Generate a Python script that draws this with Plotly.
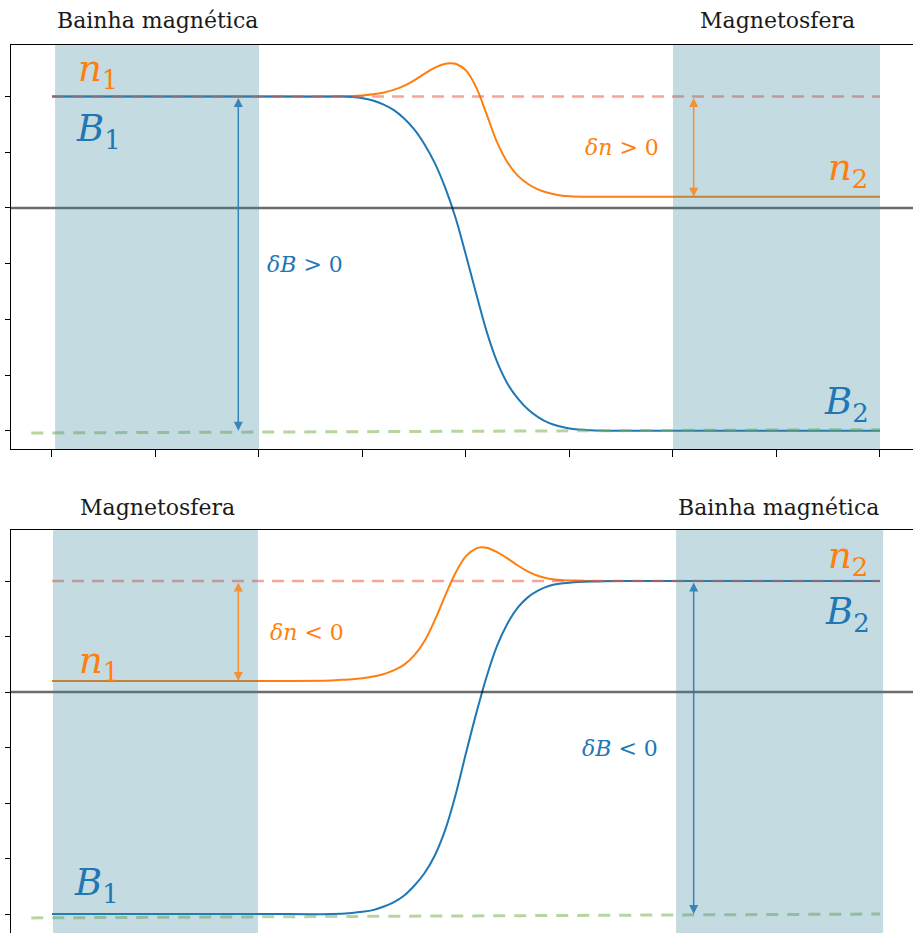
import plotly.graph_objects as go

# ---- data -------------------------------------------------------------
x_ticks = [0, 1, 2, 3, 4, 5, 6, 7, 8]
y_ticks = [-4, -3, -2, -1, 0, 1, 2]

# upper panel: sheath (left) -> magnetosphere (right)
top_n_x = [0, 1, 2, 2.7, 2.9, 3.0, 3.1, 3.2, 3.3, 3.4, 3.5, 3.6, 3.7, 3.8, 3.85, 3.9, 4.0, 4.1,
           4.2, 4.3, 4.4, 4.5, 4.6, 4.7, 4.8, 4.9, 5.0, 5.2, 6, 7, 8]
top_n_y = [2.0, 2.0, 2.0, 2.0, 2.01, 2.02, 2.04, 2.07, 2.12, 2.19, 2.29, 2.41, 2.52, 2.59, 2.60, 2.59, 2.47, 2.16,
           1.68, 1.18, 0.82, 0.58, 0.43, 0.33, 0.27, 0.23, 0.21, 0.20, 0.20, 0.20, 0.20]
top_b_x = [0, 1, 2, 2.8, 2.9, 3.0, 3.1, 3.2, 3.3, 3.4, 3.5, 3.6, 3.7, 3.8, 3.9, 4.0, 4.1,
           4.2, 4.3, 4.4, 4.5, 4.6, 4.7, 4.8, 4.9, 5.0, 5.2, 5.5, 6, 7, 8]
top_b_y = [2.0, 2.0, 2.0, 2.0, 1.99, 1.97, 1.93, 1.86, 1.76, 1.61, 1.41, 1.14, 0.80, 0.36, -0.18, -0.85, -1.55,
           -2.22, -2.76, -3.15, -3.42, -3.62, -3.76, -3.86, -3.92, -3.96, -3.99, -4.0, -4.0, -4.0, -4.0]

# lower panel: magnetosphere (left) -> sheath (right)
bot_n_x = [0, 1, 2, 2.7, 2.8, 2.9, 3.0, 3.1, 3.2, 3.3, 3.4, 3.5, 3.6, 3.7, 3.8, 3.9, 4.0, 4.1, 4.15,
           4.2, 4.3, 4.4, 4.5, 4.6, 4.7, 4.8, 4.9, 5.0, 5.2, 6, 7, 8]
bot_n_y = [0.2, 0.2, 0.2, 0.21, 0.22, 0.23, 0.25, 0.28, 0.32, 0.39, 0.49, 0.66, 0.92, 1.30, 1.74, 2.15, 2.45, 2.59, 2.61,
           2.60, 2.52, 2.41, 2.28, 2.17, 2.09, 2.04, 2.02, 2.01, 2.0, 2.0, 2.0, 2.0]
bot_b_x = [0, 1, 2, 2.7, 2.9, 3.0, 3.1, 3.2, 3.3, 3.4, 3.5, 3.6, 3.7, 3.8, 3.9, 4.0, 4.1,
           4.2, 4.3, 4.4, 4.5, 4.6, 4.7, 4.8, 4.9, 5.0, 5.2, 5.5, 6, 7, 8]
bot_b_y = [-4.0, -4.0, -4.0, -4.0, -3.98, -3.96, -3.93, -3.87, -3.79, -3.67, -3.49, -3.26, -2.94, -2.48, -1.85, -1.10, -0.38,
           0.28, 0.83, 1.23, 1.52, 1.71, 1.83, 1.91, 1.95, 1.97, 1.99, 2.0, 2.0, 2.0, 2.0]

# reference levels
upper_level = 2.0
ref_x = [0, 8]
base_x = [-0.2, 8]
top_base_y = [-4.04, -3.98]
bot_base_y = [-4.07, -4.0]

# shaded regions (x extents)
top_regions = [(0.03, 2.0), (6.0, 8.0)]
bot_regions = [(0.01, 1.99), (6.03, 8.03)]

# arrows: (x, y_from, y_to, kind)
top_arrows = [(1.8, 2.0, -4.0, "b"), (6.2, 2.0, 0.2, "n")]
bot_arrows = [(1.8, 2.0, 0.2, "n"), (6.2, 2.0, -4.0, "b")]

# ---- style ------------------------------------------------------------
BLUE = "#1f77b4"
ORANGE = "#ff7f0e"
BLUE_A = "rgba(31,119,180,0.85)"
ORANGE_A = "rgba(255,127,14,0.8)"
RED_DASH = "rgba(240,90,70,0.55)"
GREEN_DASH = "rgba(120,180,80,0.55)"
SHADE = "rgba(60,135,160,0.3)"
SERIF = "DejaVu Serif"

X_RANGE = [-0.396, 8.319]

fig = go.Figure()


def add_panel(xa, ya, n_x, n_y, b_x, b_y, base_y):
    fig.add_trace(go.Scatter(x=n_x, y=n_y, mode="lines", xaxis=xa, yaxis=ya,
                             line=dict(color=ORANGE, width=2, shape="spline", smoothing=1.0),
                             hoverinfo="skip", showlegend=False))
    fig.add_trace(go.Scatter(x=b_x, y=b_y, mode="lines", xaxis=xa, yaxis=ya,
                             line=dict(color=BLUE, width=2, shape="spline", smoothing=1.0),
                             hoverinfo="skip", showlegend=False))
    fig.add_trace(go.Scatter(x=ref_x, y=[upper_level, upper_level], mode="lines", xaxis=xa, yaxis=ya,
                             line=dict(color=RED_DASH, width=2.5, dash="12px,8px"),
                             hoverinfo="skip", showlegend=False))
    fig.add_trace(go.Scatter(x=base_x, y=base_y, mode="lines", xaxis=xa, yaxis=ya,
                             line=dict(color=GREEN_DASH, width=3, dash="12px,9px"),
                             hoverinfo="skip", showlegend=False))


add_panel("x", "y", top_n_x, top_n_y, top_b_x, top_b_y, top_base_y)
add_panel("x2", "y2", bot_n_x, bot_n_y, bot_b_x, bot_b_y, bot_base_y)

shapes = []
for xr, yr, regions in (("x", "y", top_regions), ("x2", "y2", bot_regions)):
    # horizontal zero line
    shapes.append(dict(type="line", xref=f"{xr} domain", yref=yr, x0=0, x1=1, y0=0, y1=0,
                       line=dict(color="rgba(0,0,0,0.58)", width=2.5), layer="above"))
    for x0, x1 in regions:
        shapes.append(dict(type="rect", xref=xr, yref=f"{yr} domain", x0=x0, x1=x1, y0=0, y1=1,
                           fillcolor=SHADE, line=dict(width=0), layer="above"))

annotations = []


def arrow(xr, yr, x, y0, y1, kind):
    col = BLUE_A if kind == "b" else ORANGE_A
    annotations.append(dict(x=x, y=y1, ax=x, ay=y0, xref=xr, yref=yr, axref=xr, ayref=yr,
                            text="", showarrow=True, arrowhead=2, arrowside="end+start",
                            arrowsize=1.2, arrowwidth=1.5, arrowcolor=col, standoff=0, startstandoff=0))


for a in top_arrows:
    arrow("x", "y", *a)
for a in bot_arrows:
    arrow("x2", "y2", *a)


def label(xr, yr, x, y, text, color, size, xanchor="left"):
    annotations.append(dict(x=x, y=y, xref=xr, yref=yr, text=text, showarrow=False,
                            xanchor=xanchor, yanchor="middle",
                            font=dict(family=SERIF, size=size, color=color)))


MATH = 37
# upper panel labels
label("x", "y", 0.23, 2.45, "<i>n</i><sub>1</sub>", ORANGE, MATH)
label("x", "y", 0.21, 1.38, "<i>B</i><sub>1</sub>", BLUE, MATH)
label("x", "y", 7.48, 0.68, "<i>n</i><sub>2</sub>", ORANGE, MATH)
label("x", "y", 7.44, -3.52, "<i>B</i><sub>2</sub>", BLUE, MATH)
label("x", "y", 5.51, 1.08, "<i>δn</i> &gt; 0", ORANGE, 22, "center")
label("x", "y", 2.44, -1.02, "<i>δB</i> &gt; 0", BLUE, 22, "center")
# lower panel labels
label("x2", "y2", 0.24, 0.52, "<i>n</i><sub>1</sub>", ORANGE, MATH)
label("x2", "y2", 7.48, 2.42, "<i>n</i><sub>2</sub>", ORANGE, MATH)
label("x2", "y2", 7.45, 1.40, "<i>B</i><sub>2</sub>", BLUE, MATH)
label("x2", "y2", 0.19, -3.48, "<i>B</i><sub>1</sub>", BLUE, MATH)
label("x2", "y2", 2.46, 1.08, "<i>δn</i> &lt; 0", ORANGE, 22, "center")
label("x2", "y2", 5.49, -1.01, "<i>δB</i> &lt; 0", BLUE, 22, "center")

# region titles
for xr, x, y, text in (("x", 1.02, 0.978, "Bainha magnética"),
                       ("x", 7.01, 0.978, "Magnetosfera"),
                       ("x2", 1.02, 0.456, "Magnetosfera"),
                       ("x2", 7.02, 0.456, "Bainha magnética")):
    annotations.append(dict(x=x, y=y, xref=xr, yref="paper", text=text, showarrow=False,
                            xanchor="center", yanchor="middle",
                            font=dict(family=SERIF, size=22, color="#1a1a1a")))

axis_common = dict(showgrid=False, zeroline=False, showticklabels=False,
                   linecolor="black", linewidth=1.3, tickcolor="black", tickwidth=1.2)

fig.update_layout(
    width=913, height=933,
    margin=dict(l=11, r=0, t=0, b=0),
    paper_bgcolor="white", plot_bgcolor="white",
    showlegend=False,
    font=dict(family=SERIF),
    xaxis=dict(domain=[0, 1], range=X_RANGE, tickvals=x_ticks, ticks="outside", ticklen=7,
               showline=True, mirror=True, anchor="y", **axis_common),
    yaxis=dict(domain=[0.5188, 0.9518], range=[-4.327, 2.926], tickvals=y_ticks, ticks="outside",
               ticklen=5, showline=True, anchor="x", **axis_common),
    xaxis2=dict(domain=[0, 1], range=X_RANGE, tickvals=x_ticks, ticks="", side="top",
                showline=True, anchor="y2", **axis_common),
    yaxis2=dict(domain=[0, 0.4319], range=[-4.342, 2.919], tickvals=y_ticks, ticks="outside",
                ticklen=5, showline=True, anchor="x2", **axis_common),
    shapes=shapes,
    annotations=annotations,
)

fig.write_html("out.html")
